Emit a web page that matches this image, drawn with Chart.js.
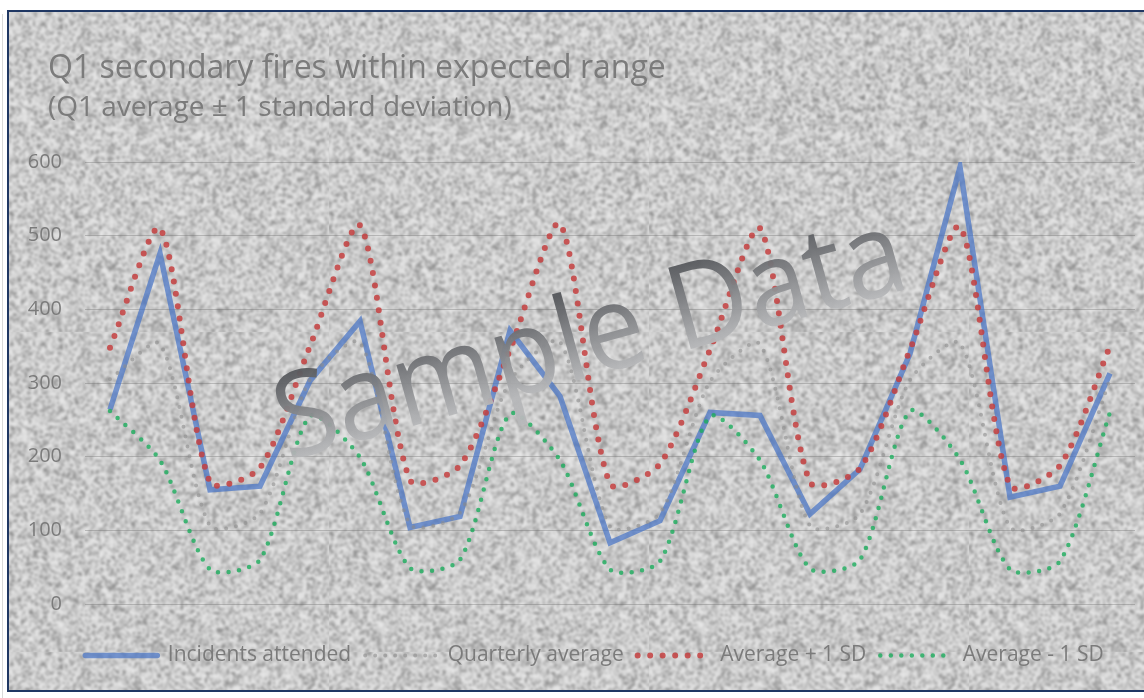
<!DOCTYPE html>
<html>
<head>
<meta charset="utf-8">
<title>Q1 secondary fires within expected range</title>
<script src="https://cdn.jsdelivr.net/npm/chart.js@4.4.1/dist/chart.umd.min.js"></script>
<style>
  html, body { margin: 0; padding: 0; background: #fff; overflow: hidden; width: 1144px; height: 698px; }
  #edge { position: absolute; left: 2px; top: 14px; width: 1px; height: 684px; background: #d9d9d9; }
  #frame { position: absolute; left: 7px; top: 10px; width: 1160px; height: 682px; box-sizing: border-box;
           border: 2px solid #1f3763; background-color: #cbcbcb; }
  #chart { position: absolute; left: 0; top: 0; }
</style>
</head>
<body>
<div id="edge"></div>
<div id="frame"></div>
<canvas id="chart" width="1144" height="698"></canvas>
<script>
// quarters (not shown on the axis)
const quarters = [
  "2015 Q1", "2015 Q2", "2015 Q3", "2015 Q4",
  "2016 Q1", "2016 Q2", "2016 Q3", "2016 Q4",
  "2017 Q1", "2017 Q2", "2017 Q3", "2017 Q4",
  "2018 Q1", "2018 Q2", "2018 Q3", "2018 Q4",
  "2019 Q1", "2019 Q2", "2019 Q3", "2019 Q4",
  "2020 Q1"
];
const incidents   = [264, 476, 155, 160, 303, 384, 104, 119, 371, 282, 83, 113, 260, 256, 122, 183, 340, 593, 145, 160, 313];
const quarterlyAvg = [305, 353, 106, 123, 305, 355, 108, 124, 303, 356, 105, 123, 302, 353, 106, 122, 304, 354, 104, 123, 305];
const avgPlusSD   = [348, 510, 165, 185, 350, 514, 168, 188, 345, 516, 163, 190, 345, 510, 165, 184, 345, 512, 160, 188, 350];
const avgMinusSD  = [262, 195, 47, 60, 255, 199, 49, 60, 258, 195, 47, 58, 255, 195, 48, 60, 262, 196, 47, 58, 260];
const yTicks = [0, 100, 200, 300, 400, 500, 600];

const TITLE = "Q1 secondary fires within expected range";
const SUBTITLE = "(Q1 average \u00b1 1 standard deviation)";
const WATERMARK = "Sample Data";
const TEXT_GREY = "#7b7b7b";
const FONT = "'Open Sans', sans-serif";

// speckled grey backdrop like the original (deterministic texture, not data)
(function () {
  const n = 160, scale = 2;
  const small = document.createElement("canvas");
  small.width = small.height = n;
  const sctx = small.getContext("2d");
  const img = sctx.createImageData(n, n);
  let seed = 2463534242;
  for (let i = 0; i < n * n; i++) {
    seed ^= seed << 13; seed >>>= 0;
    seed ^= seed >>> 17;
    seed ^= seed << 5; seed >>>= 0;
    const r = seed / 4294967296;
    const v = Math.round(232 - 105 * Math.pow(r, 2.3));
    img.data[i * 4] = v; img.data[i * 4 + 1] = v; img.data[i * 4 + 2] = v; img.data[i * 4 + 3] = 255;
  }
  sctx.putImageData(img, 0, 0);
  const big = document.createElement("canvas");
  big.width = big.height = n * scale;
  const bctx = big.getContext("2d");
  bctx.imageSmoothingEnabled = true;
  bctx.filter = "blur(0.8px)";
  bctx.drawImage(small, 0, 0, n * scale, n * scale);
  document.getElementById("frame").style.backgroundImage = "url(" + big.toDataURL() + ")";
})();

// move title + subtitle to the same left edge as the original, nudge legend right
const boxNudge = {
  id: "boxNudge",
  afterLayout(chart) {
    chart.boxes.forEach((b) => {
      if (b.options && (b.options.text === TITLE || b.options.text === SUBTITLE)) {
        b.left = 48;
      }
    });
    if (chart.legend) chart.legend.left += 42;
  }
};

const watermark = {
  id: "watermark",
  afterDatasetsDraw(chart) {
    const ctx = chart.ctx;
    ctx.save();
    ctx.translate(600, 374);
    ctx.rotate(-15.5 * Math.PI / 180);
    ctx.scale(0.93, 1);
    ctx.font = "118px " + FONT;
    ctx.textAlign = "center";
    ctx.textBaseline = "alphabetic";
    const g = ctx.createLinearGradient(0, -86, 0, 0);
    g.addColorStop(0, "#55575b");
    g.addColorStop(1, "#b6b7b9");
    ctx.fillStyle = g;
    ctx.globalAlpha = 0.95;
    ctx.fillText(WATERMARK, 0, 0);
    ctx.restore();
  }
};

new Chart(document.getElementById("chart"), {
  type: "line",
  data: {
    labels: quarters,
    datasets: [
      {
        label: "Incidents attended",
        data: incidents,
        borderColor: "rgba(72,116,198,0.72)",
        borderWidth: 5.5,
        borderJoinStyle: "miter",
        tension: 0,
        pointRadius: 0,
        order: 4
      },
      {
        label: "Quarterly average",
        data: quarterlyAvg,
        borderColor: "rgba(140,140,140,0.6)",
        borderWidth: 4,
        borderDash: [0, 10],
        borderCapStyle: "round",
        tension: 0.25,
        pointRadius: 0,
        order: 3
      },
      {
        label: "Average + 1 SD",
        data: avgPlusSD,
        borderColor: "rgba(196,64,64,0.85)",
        borderWidth: 6,
        borderDash: [0, 12.5],
        borderCapStyle: "round",
        tension: 0.25,
        pointRadius: 0,
        order: 2
      },
      {
        label: "Average - 1 SD",
        data: avgMinusSD,
        borderColor: "rgba(28,172,92,0.8)",
        borderWidth: 4.5,
        borderDash: [0, 10.5],
        borderCapStyle: "round",
        tension: 0.25,
        pointRadius: 0,
        order: 1
      }
    ]
  },
  options: {
    responsive: false,
    animation: false,
    events: [],
    layout: { padding: { left: 12, right: 9, top: 12, bottom: 22 } },
    plugins: {
      title: {
        display: true,
        text: TITLE,
        align: "start",
        color: TEXT_GREY,
        font: { family: FONT, size: 32, weight: "normal" },
        padding: { top: 38, bottom: 0 }
      },
      subtitle: {
        display: true,
        text: SUBTITLE,
        align: "start",
        color: TEXT_GREY,
        font: { family: FONT, size: 28, weight: "normal" },
        padding: { top: 3, bottom: 37 }
      },
      legend: {
        position: "bottom",
        labels: {
          usePointStyle: true,
          pointStyleWidth: 72,
          padding: 14,
          color: TEXT_GREY,
          font: { family: FONT, size: 21 },
          generateLabels: (chart) => chart.data.datasets.map((ds, i) => ({
            text: ds.label,
            datasetIndex: i,
            hidden: false,
            pointStyle: "line",
            strokeStyle: ds.borderColor,
            fillStyle: ds.borderColor,
            lineWidth: ds.borderWidth,
            lineDash: ds.borderDash || [],
            lineCap: "round",
            fontColor: TEXT_GREY
          }))
        }
      },
      tooltip: { enabled: false }
    },
    scales: {
      x: {
        offset: true,
        grid: { display: false },
        border: { display: false },
        ticks: { display: false },
        afterFit: (s) => { s.height = 27; }
      },
      y: {
        min: 0,
        max: 600,
        afterBuildTicks: (s) => { s.ticks = yTicks.map((v) => ({ value: v })); },
        ticks: { padding: 23, color: TEXT_GREY, font: { family: FONT, size: 20 } },
        grid: { color: "rgba(105,105,105,0.35)", lineWidth: 1, drawTicks: false },
        border: { display: false },
        afterFit: (s) => { s.width = 73; }
      }
    }
  },
  plugins: [boxNudge, watermark]
});
</script>
</body>
</html>
